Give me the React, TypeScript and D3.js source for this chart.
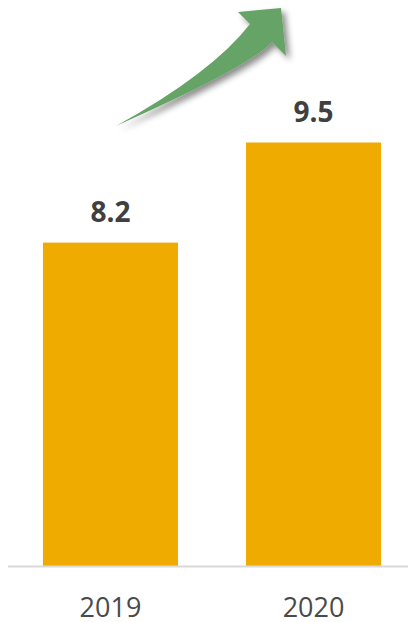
import React from "react";
import * as d3 from "d3";

const categories = ["2019", "2020"];
const values = [8.2, 9.5];
const valueLabels = ["8.2", "9.5"];

const W = 408;
const H = 622;

export default function App() {
  const x = d3
    .scaleBand<string>()
    .domain(categories)
    .range([8, 416])
    .paddingInner(0.335)
    .paddingOuter(0.172);
  const y = d3.scaleLinear().domain([4, 10]).range([566, 104]);

  const arrowPath =
    "M116,126 Q212,73 250,24 L238,12 L281,8 L286,56 L272,42 Q251,66 116,126 Z";

  return (
    <svg
      width={W}
      height={H}
      style={{ position: "absolute", left: 0, top: 0, background: "#fff" }}
      fontFamily="'Open Sans', sans-serif"
    >
      <defs>
        <filter id="shadow" x="-20%" y="-20%" width="150%" height="150%">
          <feDropShadow dx="4" dy="4" stdDeviation="3" floodColor="#000" floodOpacity="0.45" />
        </filter>
      </defs>
      <path d={arrowPath} fill="#66A366" filter="url(#shadow)" />
      {categories.map((c, i) => (
        <g key={c}>
          <rect
            x={x(c)}
            y={y(values[i])}
            width={x.bandwidth()}
            height={y(4) - y(values[i])}
            fill="#F0AB00"
          />
          <text
            x={(x(c) as number) + x.bandwidth() / 2}
            y={y(values[i]) - 21}
            textAnchor="middle"
            fontSize={28}
            fontWeight="bold"
            fill="#404040"
          >
            {valueLabels[i]}
          </text>
          <text
            x={(x(c) as number) + x.bandwidth() / 2}
            y={617}
            textAnchor="middle"
            fontSize={27}
            fill="#4a4a4a"
          >
            {c}
          </text>
        </g>
      ))}
      <line x1={8} x2={408} y1={566.5} y2={566.5} stroke="#D9D9D9" strokeWidth={2} />
    </svg>
  );
}
